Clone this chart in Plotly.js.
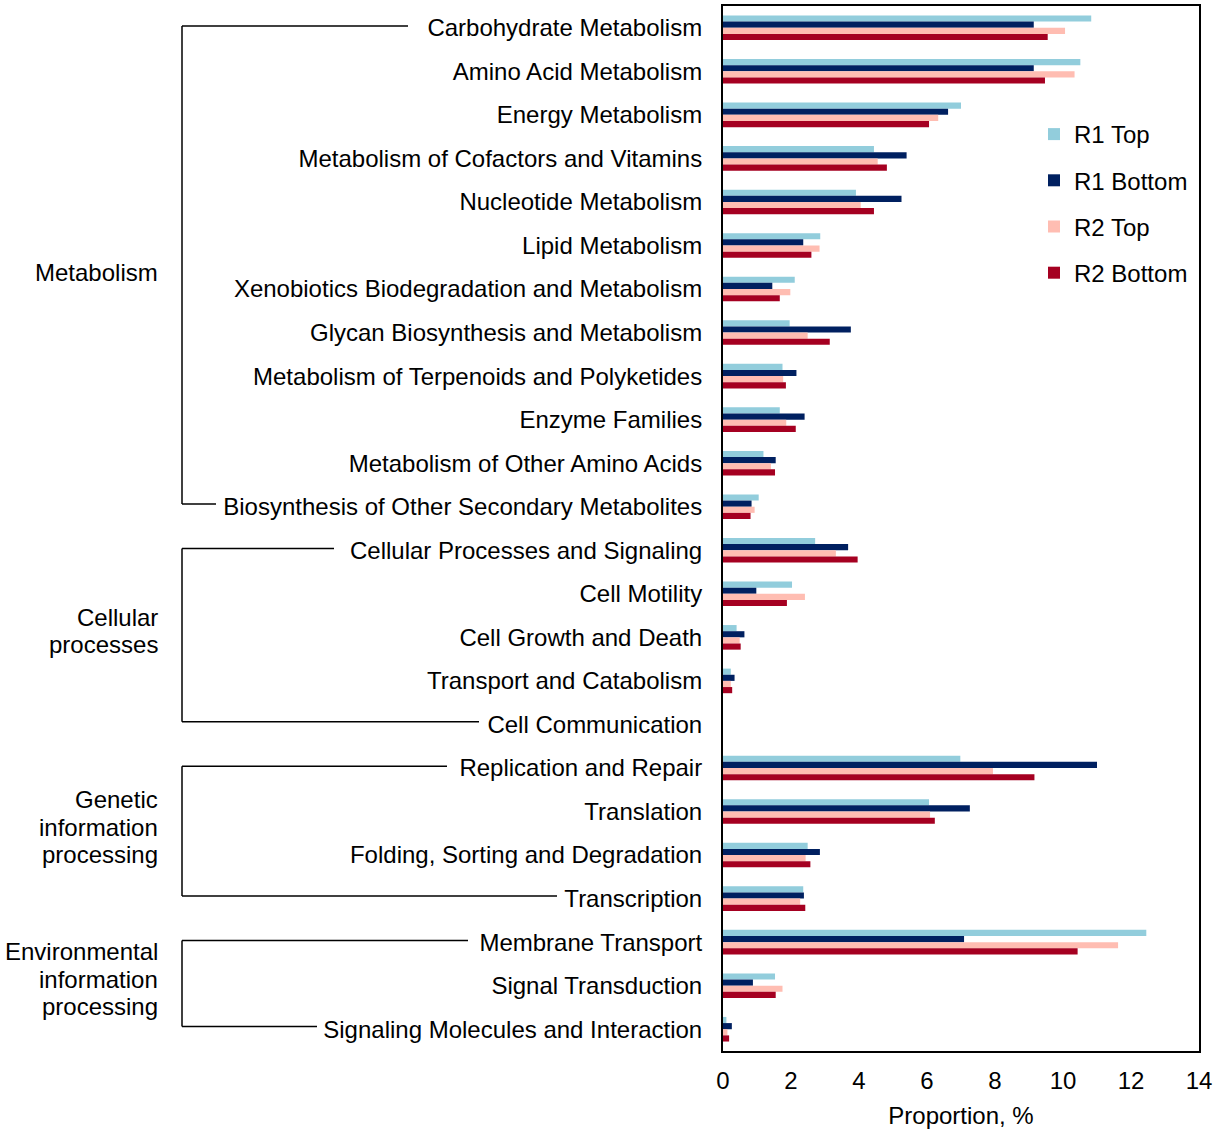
<!DOCTYPE html>
<html>
<head>
<meta charset="utf-8">
<script src="https://cdn.plot.ly/plotly-3.0.1.min.js"></script>
<style>
  html, body { margin: 0; padding: 0; background: #ffffff; }
  #chart { width: 1225px; height: 1130px; }
</style>
</head>
<body>
<div id="chart"></div>
<script>
// KEGG level-2 pathways, top to bottom
const pathways = [
  "Carbohydrate Metabolism",
  "Amino Acid Metabolism",
  "Energy Metabolism",
  "Metabolism of Cofactors and Vitamins",
  "Nucleotide Metabolism",
  "Lipid Metabolism",
  "Xenobiotics Biodegradation and Metabolism",
  "Glycan Biosynthesis and Metabolism",
  "Metabolism of Terpenoids and Polyketides",
  "Enzyme Families",
  "Metabolism of Other Amino Acids",
  "Biosynthesis of Other Secondary Metabolites",
  "Cellular Processes and Signaling",
  "Cell Motility",
  "Cell Growth and Death",
  "Transport and Catabolism",
  "Cell Communication",
  "Replication and Repair",
  "Translation",
  "Folding, Sorting and Degradation",
  "Transcription",
  "Membrane Transport",
  "Signal Transduction",
  "Signaling Molecules and Interaction"
];

// Relative abundance (%) per sample
const r1Top = [10.83, 10.51, 7.00, 4.44, 3.91, 2.86, 2.11, 1.96, 1.75, 1.67, 1.19, 1.05,
               2.71, 2.03, 0.40, 0.23, 0.00, 6.98, 6.06, 2.49, 2.36, 12.45, 1.53, 0.10];
const r1Bottom = [9.14, 9.14, 6.62, 5.40, 5.25, 2.36, 1.45, 3.76, 2.16, 2.40, 1.55, 0.84,
                  3.68, 0.98, 0.63, 0.34, 0.00, 11.00, 7.26, 2.85, 2.38, 7.09, 0.88, 0.26];
const r2Top = [10.06, 10.34, 6.33, 4.55, 4.05, 2.84, 1.98, 2.49, 1.77, 1.86, 1.41, 0.93,
               3.32, 2.41, 0.49, 0.23, 0.00, 7.94, 6.09, 2.43, 2.27, 11.62, 1.75, 0.13];
const r2Bottom = [9.55, 9.47, 6.06, 4.82, 4.44, 2.60, 1.67, 3.14, 1.85, 2.14, 1.53, 0.81,
                  3.96, 1.88, 0.52, 0.27, 0.00, 9.16, 6.23, 2.57, 2.42, 10.43, 1.55, 0.18];

const seriesNames = ["R1 Top", "R1 Bottom", "R2 Top", "R2 Bottom"];
const seriesColors = ["#92CDDC", "#002060", "#FFBDB2", "#A50021"];
const seriesValues = [r1Top, r1Bottom, r2Top, r2Bottom];

// Level-1 groups: label lines, first and last pathway, where the bracket arms stop
const groups = [
  { lines: ["Metabolism"], first: 0, last: 11, topArm: 408, bottomArm: 216, labelY: 273 },
  { lines: ["Cellular", "processes"], first: 12, last: 16, topArm: 334, bottomArm: 479, labelY: 631 },
  { lines: ["Genetic", "information", "processing"], first: 17, last: 20, topArm: 447, bottomArm: 557, labelY: 827 },
  { lines: ["Environmental", "information", "processing"], first: 21, last: 23, topArm: 468, bottomArm: 317, labelY: 979 }
];

const W = 1225, H = 1130;
const M = { l: 723, r: 26, t: 6, b: 79 };
const plotW = W - M.l - M.r, plotH = H - M.t - M.b;
const pxX = px => (px - M.l) / plotW;          // page px -> paper x
const pxY = py => (M.t + plotH - py) / plotH;  // page px -> paper y

const FONT = "Liberation Sans, Arial, Helvetica, sans-serif";
const LINE_GAP = 27.5;

const traces = seriesNames.map((name, i) => ({
  type: "bar",
  orientation: "h",
  name: name,
  y: pathways,
  x: seriesValues[i],
  legendgroup: name,
  marker: { color: seriesColors[i], line: { width: 0 } },
  hoverinfo: "x+y+name"
}));

const shapes = [];
const annotations = [];
const bracketX = pxX(182);
groups.forEach(g => {
  const yTop = g.first - 0.04;
  const yBot = g.last - 0.06;
  shapes.push({ type: "line", xref: "paper", yref: "y", x0: bracketX, x1: bracketX,
                y0: yTop, y1: yBot, line: { color: "#000", width: 1.5 } });
  shapes.push({ type: "line", xref: "paper", yref: "y", x0: bracketX, x1: pxX(g.topArm),
                y0: yTop, y1: yTop, line: { color: "#000", width: 1.5 } });
  shapes.push({ type: "line", xref: "paper", yref: "y", x0: bracketX, x1: pxX(g.bottomArm),
                y0: yBot, y1: yBot, line: { color: "#000", width: 1.5 } });
  const n = g.lines.length;
  g.lines.forEach((line, k) => {
    annotations.push({
      xref: "paper", yref: "paper",
      x: pxX(160), y: pxY(g.labelY + (k - (n - 1) / 2) * LINE_GAP),
      xanchor: "right", yanchor: "middle", align: "right", showarrow: false,
      text: line, font: { family: FONT, size: 24, color: "#000" }
    });
  });
});

const layout = {
  width: W, height: H,
  margin: M,
  paper_bgcolor: "#ffffff",
  plot_bgcolor: "#ffffff",
  barmode: "group",
  bargap: 0.435,
  bargroupgap: 0,
  font: { family: FONT, size: 24, color: "#000" },
  xaxis: {
    range: [0, 14],
    dtick: 2,
    tick0: 0,
    showgrid: false,
    zeroline: false,
    showline: true,
    linecolor: "#000",
    linewidth: 2,
    mirror: true,
    ticks: "",
    ticklabelstandoff: 7,
    tickfont: { family: FONT, size: 24, color: "#000" },
    title: { text: "Proportion, %", font: { family: FONT, size: 24, color: "#000" }, standoff: 14 }
  },
  yaxis: {
    type: "category",
    autorange: "reversed",
    showgrid: false,
    zeroline: false,
    showline: true,
    linecolor: "#000",
    linewidth: 2,
    mirror: true,
    ticks: "",
    ticklabelstandoff: 14,
    tickfont: { family: FONT, size: 24, color: "#000" }
  },
  legend: {
    x: pxX(1034), y: pxY(112),
    xanchor: "left", yanchor: "top",
    bgcolor: "rgba(0,0,0,0)",
    traceorder: "grouped",
    tracegroupgap: 12,
    font: { family: FONT, size: 24, color: "#000" }
  },
  shapes: shapes,
  annotations: annotations
};

Plotly.newPlot("chart", traces, layout, { displayModeBar: false, staticPlot: true });
</script>
</body>
</html>
